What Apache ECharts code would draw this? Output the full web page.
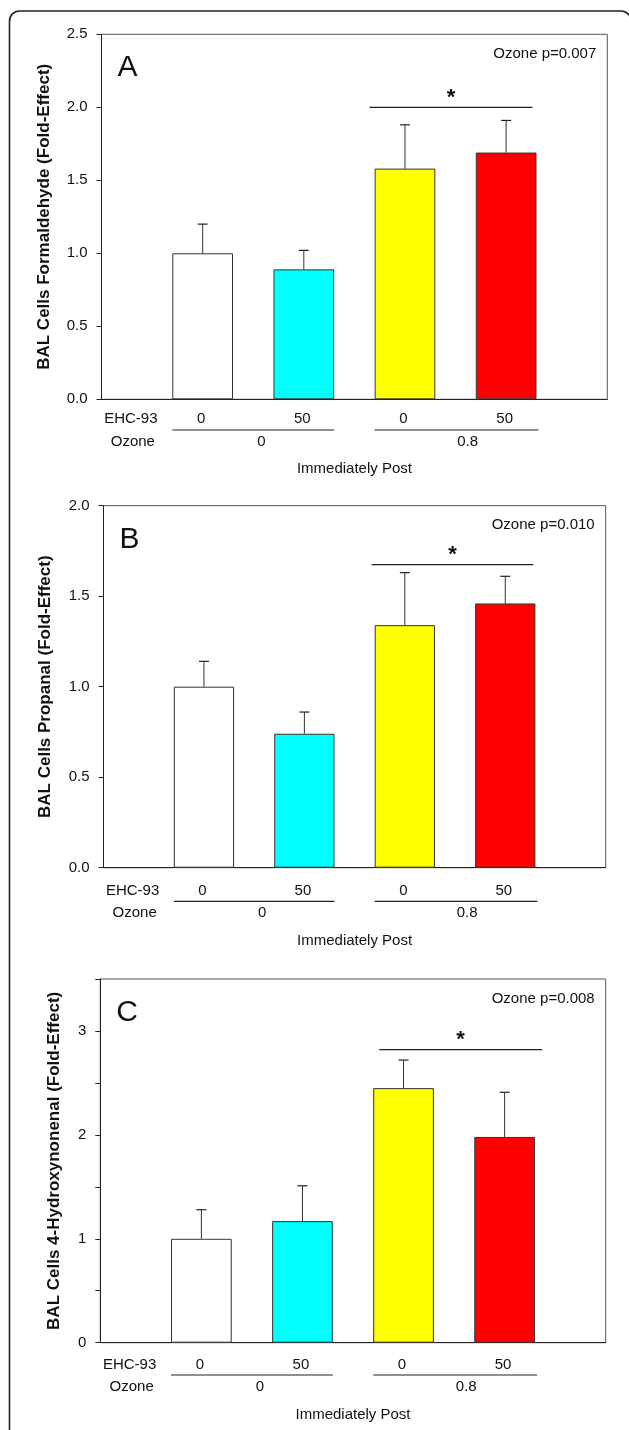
<!DOCTYPE html>
<html>
<head>
<meta charset="utf-8">
<script src="https://cdn.jsdelivr.net/npm/echarts@6/dist/echarts.min.js"></script>
<style>
html,body{margin:0;padding:0;background:#fff;}
#chart{width:629px;height:1430px;}
</style>
</head>
<body>
<div id="chart"></div>
<script>
// ---------------- data ----------------
const categories = ['EHC-93 0 / Ozone 0', 'EHC-93 50 / Ozone 0', 'EHC-93 0 / Ozone 0.8', 'EHC-93 50 / Ozone 0.8'];
const ehcLabels = ['0', '50', '0', '50'];
const ozoneLabels = ['0', '0.8'];
const timeLabel = 'Immediately Post';

const formaldehydeMean = [1.00, 0.89, 1.58, 1.69];
const formaldehydeSem  = [0.20, 0.13, 0.30, 0.22];
const propanalMean = [1.00, 0.74, 1.34, 1.46];
const propanalSem  = [0.14, 0.12, 0.29, 0.15];
const hneMean = [1.00, 1.17, 2.45, 1.98];
const hneSem  = [0.28, 0.34, 0.27, 0.43];

const panelLetters = ['A', 'B', 'C'];
const pValueLabels = ['Ozone p=0.007', 'Ozone p=0.010', 'Ozone p=0.008'];
const yTitles = [
  'BAL Cells Formaldehyde (Fold-Effect)',
  'BAL Cells Propanal (Fold-Effect)',
  'BAL Cells 4-Hydroxynonenal (Fold-Effect)'
];
const yMax = [2.5, 2.0, 3.5];
const yStep = [0.5, 0.5, 0.5];

// significance brackets (x in category units, y in value units)
const sigStart = [2.65, 2.67, 2.76];
const sigEnd   = [4.26, 4.28, 4.37];
const sigLevel = [2.00, 1.675, 2.82];
const sigMark = '*';

// ---------------- layout / style ----------------
const FONT = '"Liberation Sans", Arial, Helvetica, sans-serif';
const TXT = '#111';
const barColors = ['#ffffff', '#00ffff', '#ffff00', '#ff0000'];
const means = [formaldehydeMean, propanalMean, hneMean];
const sems = [formaldehydeSem, propanalSem, hneSem];
const grids = [
  {left: 101.5, top: 34.3, width: 505.8, height: 365},
  {left: 103.5, top: 505.7, width: 502.2, height: 362},
  {left: 100.3, top: 979, width: 505.4, height: 363.7}
];
const below = [
  {ehc: 20, line: 30.7, oz: 42.7, ip: 70},
  {ehc: 23.3, line: 33.6, oz: 45, ip: 73.3},
  {ehc: 22.3, line: 32.3, oz: 44, ip: 72.3}
];
const nameGaps = [49, 49.5, 37];
const X_MAX = categories.length + 1;

const chart = echarts.init(document.getElementById('chart'), null, {renderer: 'canvas'});

const gridOpts = [], xAxes = [], yAxes = [], series = [];

function txt(x, y, s, extra) {
  return {
    type: 'text', x: x, y: y, silent: true,
    style: Object.assign({
      text: s, fill: TXT, fontSize: 15, fontFamily: FONT,
      align: 'center', verticalAlign: 'middle'
    }, extra || {})
  };
}
function seg(x1, y1, x2, y2, color, w) {
  return {type: 'line', silent: true, shape: {x1: x1, y1: y1, x2: x2, y2: y2},
          style: {stroke: color || '#222', lineWidth: w || 1}};
}

for (let p = 0; p < 3; p++) {
  gridOpts.push(Object.assign({show: true, borderColor: '#555', borderWidth: 1, backgroundColor: 'transparent'}, grids[p]));
  xAxes.push({
    type: 'value', gridIndex: p, min: 0, max: X_MAX, interval: 1,
    axisLine: {show: true, onZero: false, lineStyle: {color: '#222', width: 1}},
    axisTick: {show: false}, axisLabel: {show: false}, splitLine: {show: false}
  });
  yAxes.push({
    type: 'value', gridIndex: p, min: 0, max: yMax[p], interval: yStep[p],
    name: yTitles[p], nameLocation: 'middle', nameGap: nameGaps[p], nameRotate: 90,
    nameTextStyle: {fontFamily: FONT, fontWeight: 'bold', fontSize: 17, color: TXT},
    axisLine: {show: true, lineStyle: {color: '#222', width: 1}},
    axisTick: {show: true, length: 5, lineStyle: {color: '#222'}},
    axisLabel: {
      margin: 14, fontFamily: FONT, fontSize: 15, color: TXT,
      formatter: p === 2
        ? (v => (Math.abs(v - Math.round(v)) < 1e-6 ? String(Math.round(v)) : ''))
        : (v => v.toFixed(1)),
      showMaxLabel: true, showMinLabel: true
    },
    splitLine: {show: false}
  });

  // bars
  series.push({
    type: 'bar', xAxisIndex: p, yAxisIndex: p, barWidth: '60%',
    data: means[p].map((m, i) => ({value: [i + 1, m], itemStyle: {color: barColors[i]}})),
    itemStyle: {borderColor: '#333', borderWidth: 1},
    silent: true, z: 2
  });

  // error bars (upper only)
  series.push({
    type: 'custom', xAxisIndex: p, yAxisIndex: p, z: 3, silent: true,
    encode: {x: 0, y: 1},
    data: means[p].map((m, i) => [i + 1, m, sems[p][i]]),
    renderItem: function (params, api) {
      const x = api.value(0), m = api.value(1), s = api.value(2);
      const b = api.coord([x, m]);
      const t = api.coord([x, m + s]);
      return {type: 'group', children: [
        seg(b[0], b[1], t[0], t[1], '#333', 1),
        seg(t[0] - 5, t[1], t[0] + 5, t[1], '#222', 1.2)
      ]};
    }
  });

  // annotations: below-axis labels, panel letter, p-value, significance bracket
  series.push({
    type: 'custom', xAxisIndex: p, yAxisIndex: p, z: 4, silent: true, clip: false,
    data: [[0, 0]],
    renderItem: function (params, api) {
      const o = api.coord([0, 0]);
      const axisY = o[1];
      const tl = api.coord([0, yMax[p]]);
      const tr = api.coord([X_MAX, yMax[p]]);
      const off = below[p];
      const ch = [];
      ch.push(txt(api.coord([0.29, 0])[0], axisY + off.ehc, 'EHC-93'));
      ehcLabels.forEach((l, i) => ch.push(txt(api.coord([i + 1, 0])[0] - 1.5, axisY + off.ehc, l)));
      [[0.7, 2.3], [2.7, 4.32]].forEach(r => {
        ch.push(seg(api.coord([r[0], 0])[0], axisY + off.line, api.coord([r[1], 0])[0], axisY + off.line, '#222', 1.2));
      });
      ch.push(txt(api.coord([0.31, 0])[0], axisY + off.oz, 'Ozone'));
      ch.push(txt(api.coord([1.58, 0])[0], axisY + off.oz, ozoneLabels[0]));
      ch.push(txt(api.coord([3.62, 0])[0], axisY + off.oz, ozoneLabels[1]));
      ch.push(txt(api.coord([2.5, 0])[0], axisY + off.ip, timeLabel));
      // panel letter + p value
      ch.push(txt(tl[0] + 16, tl[1] + 33.8, panelLetters[p], {fontSize: 30, align: 'left'}));
      ch.push(txt(tr[0] - 11, tl[1] + 19.6, pValueLabels[p], {align: 'right'}));
      // significance bracket
      const s0 = api.coord([sigStart[p], sigLevel[p]]);
      const s1 = api.coord([sigEnd[p], sigLevel[p]]);
      ch.push(seg(s0[0], s0[1], s1[0], s1[1], '#222', 1.2));
      ch.push(txt((s0[0] + s1[0]) / 2, s0[1] - 9.5, sigMark, {fontSize: 22, fontWeight: 'bold'}));
      return {type: 'group', children: ch};
    }
  });
}

chart.setOption({
  backgroundColor: '#ffffff',
  animation: false,
  grid: gridOpts,
  xAxis: xAxes,
  yAxis: yAxes,
  series: series,
  graphic: [{
    type: 'rect', silent: true, z: -1,
    shape: {x: 9.5, y: 11, width: 621.5, height: 1500, r: [10, 10, 0, 0]},
    style: {fill: 'none', stroke: '#222', lineWidth: 1.6}
  }]
});
</script>
</body>
</html>
